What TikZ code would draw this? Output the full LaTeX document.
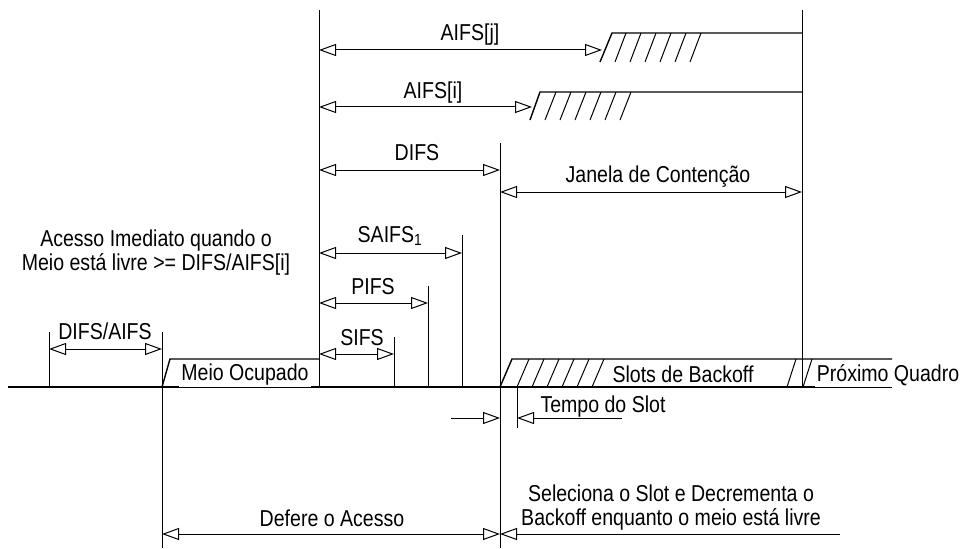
\documentclass[tikz,border=0pt]{standalone}
\usepackage{fontspec}
\setmainfont[FakeStretch=0.85]{Liberation Sans}
\usetikzlibrary{arrows.meta}
\tikzset{
  thin line/.style={line width=1pt, line cap=butt},
  base line/.style={line width=2.3pt},
  top line/.style={line width=1.4pt, line join=miter},
  hatch/.style={line width=1pt},
  dim/.style={line width=1pt, {Triangle[open,length=17pt,width=12pt,line width=1pt]}-{Triangle[open,length=17pt,width=12pt,line width=1pt]}},
  dimr/.style={line width=1pt, -{Triangle[open,length=17pt,width=12pt,line width=1pt]}},
  lbl/.style={inner sep=1pt, font=\fontsize{23}{24}\selectfont},
  wlbl/.style={lbl, fill=white, inner sep=2pt}
}
\begin{document}
\begin{tikzpicture}[x=1pt,y=-1pt]
\useasboundingbox (0,0) rectangle (965,548);
% named coordinates
\coordinate (b0) at (8,387);   \coordinate (b1) at (892,387);
\coordinate (v48t) at (49,332);  \coordinate (v48b) at (49,387);
\coordinate (v162t) at (162,332); \coordinate (v162b) at (162,548);
\coordinate (v319t) at (319,10);  \coordinate (v319b) at (319,387);
\coordinate (v394t) at (394,337); \coordinate (v394b) at (394,387);
\coordinate (v428t) at (428,286); \coordinate (v428b) at (428,387);
\coordinate (v462t) at (462,235); \coordinate (v462b) at (462,387);
\coordinate (v500t) at (500,143); \coordinate (v500b) at (500,548);
\coordinate (v517t) at (517,387); \coordinate (v517b) at (517,428);
\coordinate (v802t) at (802,10);  \coordinate (v802b) at (802,387);

% baseline
\draw[base line] (b0) -- (b1);
% verticals
\foreach \n in {v48,v162,v319,v394,v428,v462,v500,v517,v802}
  \draw[thin line] (\n t) -- (\n b);

% busy medium block
\draw[top line] (162,387) -- (170,359) -- (319,359);
% AIFS[j] block
\draw[top line] (600,62) -- (612,33) -- (802,33);
\foreach \x in {615,630,645,660,675,690} \draw[hatch] (\x,62) -- (\x+11,33);
% AIFS[i] block
\draw[top line] (530,120) -- (540,92) -- (802,92);
\foreach \x in {545,560,575,590,605,620} \draw[hatch] (\x,120) -- (\x+11,92);
% backoff block
\draw[top line] (500,387) -- (512,359) -- (892,359);
\foreach \x in {517,532,547,562,577,592} \draw[hatch] (\x,387) -- (\x+12,359);
\draw[hatch] (787,387) -- (796,359);
\draw[hatch] (803,387) -- (812,359);

% dimension arrows
\draw[dim] (319,50) -- (602,50);
\draw[dim] (319,107) -- (532,107);
\draw[dim] (319,170) -- (500,170);
\draw[dim] (500,192) -- (802,192);
\draw[dim] (319,253) -- (462,253);
\draw[dim] (319,303) -- (428,303);
\draw[dim] (319,354) -- (394,354);
\draw[dim] (49,349) -- (162,349);
\draw[dim] (162,534) -- (500,534);
\draw[dimr] (840,534) -- (500,534);
\draw[dimr] (451,418) -- (500,418);
\draw[dimr] (622,418) -- (517,418);

% labels
\node[lbl] (laj) at (470,35) {AIFS[j]};
\node[lbl] (lai) at (433,93) {AIFS[i]};
\node[lbl] (ldifs) at (417,153) {DIFS};
\node[lbl, fill=white] (ljan) at (658,177) {Janela de Contenção};
\node[lbl] (lsaifs) at (390,236) {SAIFS\textsubscript{1}};
\node[lbl] (lpifs) at (373,287) {PIFS};
\node[lbl] (lsifs) at (362,338) {SIFS};
\node[lbl] (lda) at (105,331) {DIFS/AIFS};
\node[lbl, align=center] (lacc) at (156,253) {Acesso Imediato quando o\\Meio está livre >= DIFS/AIFS[i]};
\node[wlbl, anchor=south] (lmeio) at (245,387.6) {Meio Ocupado};
\node[lbl] (lslots) at (683,374) {Slots de Backoff};
\node[wlbl, anchor=south] (lprox) at (888,387.6) {Próximo Quadro};
\node[lbl] (ltempo) at (603,407) {Tempo do Slot};
\node[lbl] (ldef) at (332,518) {Defere o Acesso};
\node[lbl, align=center] (lsel) at (671,508) {Seleciona o Slot e Decrementa o\\Backoff enquanto o meio está livre};
\end{tikzpicture}
\end{document}
